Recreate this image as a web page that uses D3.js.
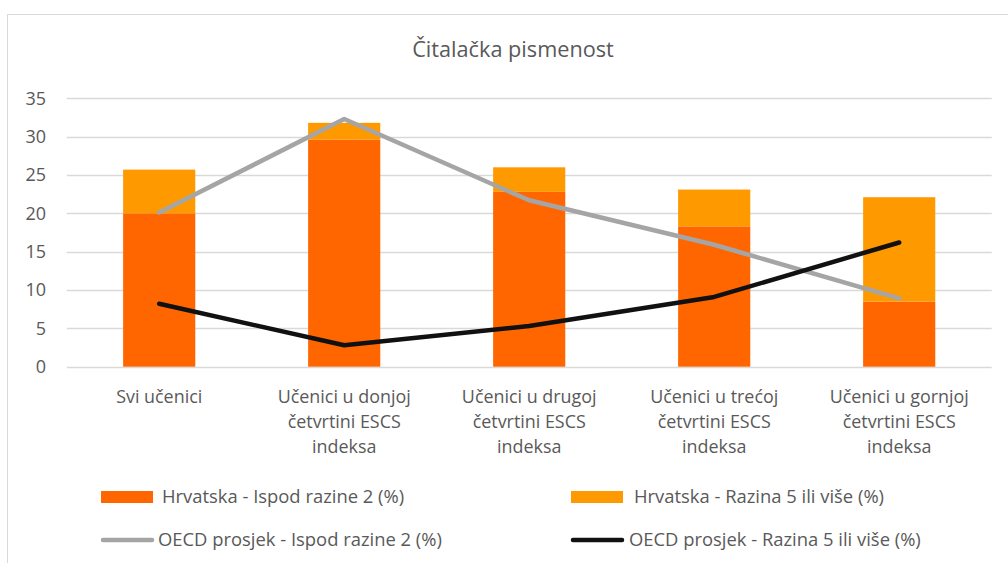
<!DOCTYPE html>
<html>
<head>
<meta charset="utf-8">
<script src="https://cdn.jsdelivr.net/npm/d3@7"></script>
<style>
  body { margin: 0; background: #fff; }
  text { font-family: "Open Sans", sans-serif; fill: #595959; }
</style>
</head>
<body>
<div id="vis"></div>
<script>
const width = 1008
const height = 563

// data
const categories = [
  ['Svi učenici'],
  ['Učenici u donjoj', 'četvrtini ESCS', 'indeksa'],
  ['Učenici u drugoj', 'četvrtini ESCS', 'indeksa'],
  ['Učenici u trećoj', 'četvrtini ESCS', 'indeksa'],
  ['Učenici u gornjoj', 'četvrtini ESCS', 'indeksa']
]
const hrIspod = [20.0, 29.6, 22.8, 18.3, 8.5]
const hrRazina5 = [5.7, 2.2, 3.2, 4.8, 13.6]
const oecdIspod = [20.1, 32.3, 21.7, 15.9, 8.9]
const oecdRazina5 = [8.2, 2.8, 5.3, 9.1, 16.2]
const yTicks = [0, 5, 10, 15, 20, 25, 30, 35]

const seriesNames = [
  'Hrvatska - Ispod razine 2 (%)',
  'Hrvatska - Razina 5 ili više (%)',
  'OECD prosjek - Ispod razine 2 (%)',
  'OECD prosjek - Razina 5 ili više (%)'
]

const colors = ['#ff6600', '#ff9900', '#a5a5a5', '#111111']

const svg = d3.select('#vis')
  .append('svg')
  .attr('width', width)
  .attr('height', height)

// chart frame
svg.append('rect')
  .attr('x', 7.5).attr('y', 14.5)
  .attr('width', 1010).attr('height', 570)
  .attr('fill', 'none')
  .attr('stroke', '#d9d9d9')
  .attr('stroke-width', 1)

const keys = categories.map((c, i) => i)

const x = d3.scaleBand()
  .domain(keys)
  .range([66.7, 991.7])
  .paddingInner(0.61)
  .paddingOuter(0.305)

const y = d3.scaleLinear()
  .domain([0, 35])
  .range([366.7, 98.3])

// gridlines
svg.append('g')
  .selectAll('line')
  .data(yTicks)
  .join('line')
  .attr('x1', 66.7)
  .attr('x2', 991.7)
  .attr('y1', d => Math.round(y(d)) + 0.5)
  .attr('y2', d => Math.round(y(d)) + 0.5)
  .attr('stroke', '#d9d9d9')
  .attr('stroke-width', 1.3)

// y tick labels
svg.append('g')
  .selectAll('text')
  .data(yTicks)
  .join('text')
  .attr('x', 46)
  .attr('y', d => y(d))
  .attr('dy', '0.35em')
  .attr('text-anchor', 'end')
  .attr('font-size', 18)
  .text(d => d)

// stacked bars
const stackData = keys.map(i => ({ i, a: hrIspod[i], b: hrRazina5[i] }))
const stacked = d3.stack().keys(['a', 'b'])(stackData)

svg.append('g')
  .selectAll('g')
  .data(stacked)
  .join('g')
  .attr('fill', (d, k) => colors[k])
  .selectAll('rect')
  .data(d => d)
  .join('rect')
  .attr('x', d => x(d.data.i))
  .attr('width', x.bandwidth())
  .attr('y', d => y(d[1]))
  .attr('height', d => y(d[0]) - y(d[1]))

// lines
const line = d3.line()
  .x((d, i) => x(i) + x.bandwidth() / 2)
  .y(d => y(d))

;[[oecdIspod, colors[2]], [oecdRazina5, colors[3]]].forEach(([vals, c]) => {
  svg.append('path')
    .attr('d', line(vals))
    .attr('fill', 'none')
    .attr('stroke', c)
    .attr('stroke-width', 4.5)
    .attr('stroke-linecap', 'round')
    .attr('stroke-linejoin', 'round')
})

// category labels
const catG = svg.append('g')
  .selectAll('text')
  .data(categories)
  .join('text')
  .attr('text-anchor', 'middle')
  .attr('font-size', 17.9)
  .attr('transform', (d, i) => `translate(${x(i) + x.bandwidth() / 2}, 403)`)

catG.selectAll('tspan')
  .data(d => d)
  .join('tspan')
  .attr('x', 0)
  .attr('y', (d, j) => j * 25)
  .text(d => d)

// title
svg.append('text')
  .attr('x', 513)
  .attr('y', 57)
  .attr('text-anchor', 'middle')
  .attr('font-size', 21.7)
  .text('Čitalačka pismenost')

// legend
const legendPos = [
  { x: 101, y: 497, kind: 'rect', tx: 162 },
  { x: 571, y: 497, kind: 'rect', tx: 634 },
  { x: 101, y: 540, kind: 'line', tx: 158 },
  { x: 571, y: 540, kind: 'line', tx: 629 }
]

const legend = svg.append('g')
  .selectAll('g')
  .data(seriesNames)
  .join('g')

legend.each(function (name, k) {
  const g = d3.select(this)
  const p = legendPos[k]
  if (p.kind === 'rect') {
    g.append('rect')
      .attr('x', p.x).attr('y', p.y - 6)
      .attr('width', 52).attr('height', 12)
      .attr('fill', colors[k])
  } else {
    g.append('line')
      .attr('x1', p.x + 2).attr('x2', p.x + 51)
      .attr('y1', p.y).attr('y2', p.y)
      .attr('stroke', colors[k])
      .attr('stroke-width', 4.5)
      .attr('stroke-linecap', 'round')
  }
  g.append('text')
    .attr('x', p.tx)
    .attr('y', p.y)
    .attr('dy', '0.35em')
    .attr('font-size', 18.4)
    .text(name)
})
</script>
</body>
</html>
